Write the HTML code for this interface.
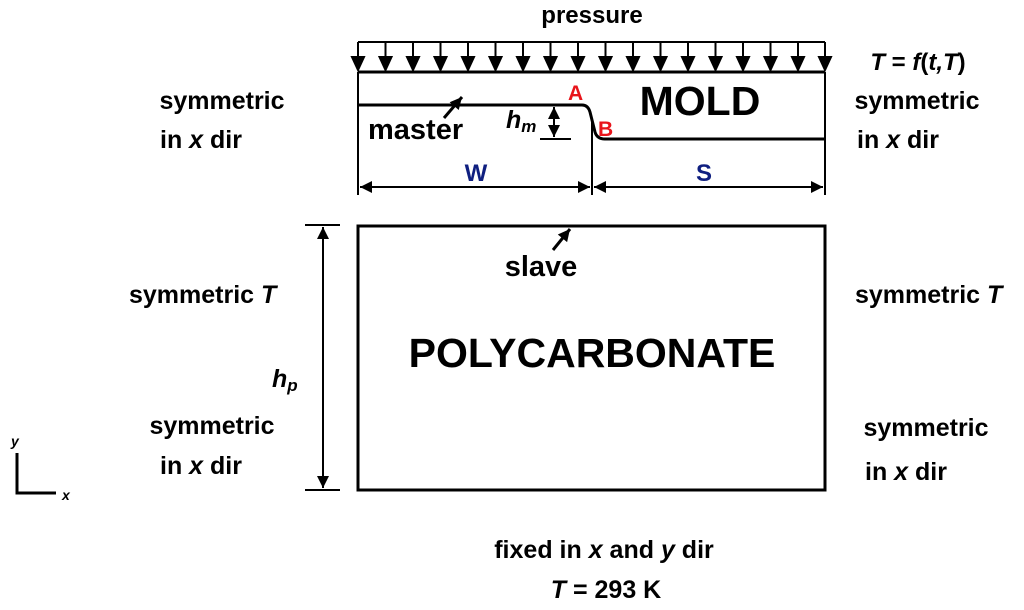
<!DOCTYPE html>
<html><head><meta charset="utf-8"><style>
html,body{margin:0;padding:0;background:#fff}
svg{display:block}
text{font-family:"Liberation Sans",Arial,sans-serif;font-weight:bold;fill:#000}
</style></head><body>
<svg width="1024" height="610" viewBox="0 0 1024 610" xmlns="http://www.w3.org/2000/svg">
<defs>
<marker id="ah2" viewBox="0 0 10 10" markerWidth="14" markerHeight="12" refX="10" refY="5" orient="auto-start-reverse" markerUnits="userSpaceOnUse">
<path d="M0,0 L10,5 L0,10 Z" fill="#000"/></marker>
</defs>
<text x="592" y="23" font-size="24" text-anchor="middle">pressure</text>
<line x1="358" y1="42" x2="825" y2="42" stroke="#000" stroke-width="2"/>
<g stroke="#000" stroke-width="2">
<line x1="358" y1="42" x2="358" y2="58"/><polygon points="352,57 364,57 358,70"/>
<line x1="385.5" y1="42" x2="385.5" y2="58"/><polygon points="379.5,57 391.5,57 385.5,70"/>
<line x1="413" y1="42" x2="413" y2="58"/><polygon points="407,57 419,57 413,70"/>
<line x1="440.5" y1="42" x2="440.5" y2="58"/><polygon points="434.5,57 446.5,57 440.5,70"/>
<line x1="468" y1="42" x2="468" y2="58"/><polygon points="462,57 474,57 468,70"/>
<line x1="495.5" y1="42" x2="495.5" y2="58"/><polygon points="489.5,57 501.5,57 495.5,70"/>
<line x1="523" y1="42" x2="523" y2="58"/><polygon points="517,57 529,57 523,70"/>
<line x1="550.5" y1="42" x2="550.5" y2="58"/><polygon points="544.5,57 556.5,57 550.5,70"/>
<line x1="578" y1="42" x2="578" y2="58"/><polygon points="572,57 584,57 578,70"/>
<line x1="605.5" y1="42" x2="605.5" y2="58"/><polygon points="599.5,57 611.5,57 605.5,70"/>
<line x1="633" y1="42" x2="633" y2="58"/><polygon points="627,57 639,57 633,70"/>
<line x1="660.5" y1="42" x2="660.5" y2="58"/><polygon points="654.5,57 666.5,57 660.5,70"/>
<line x1="688" y1="42" x2="688" y2="58"/><polygon points="682,57 694,57 688,70"/>
<line x1="715.5" y1="42" x2="715.5" y2="58"/><polygon points="709.5,57 721.5,57 715.5,70"/>
<line x1="743" y1="42" x2="743" y2="58"/><polygon points="737,57 749,57 743,70"/>
<line x1="770.5" y1="42" x2="770.5" y2="58"/><polygon points="764.5,57 776.5,57 770.5,70"/>
<line x1="798" y1="42" x2="798" y2="58"/><polygon points="792,57 804,57 798,70"/>
<line x1="825" y1="42" x2="825" y2="58"/><polygon points="819,57 831,57 825,70"/>
</g>
<g fill="none" stroke="#000">
<line x1="358" y1="72" x2="825" y2="72" stroke-width="3"/>
<line x1="358" y1="72" x2="358" y2="195" stroke-width="2"/>
<line x1="825" y1="72" x2="825" y2="195" stroke-width="2"/>
<path d="M358,105 L582,105 Q588,105 590,112 L595,132 Q597,139 605,139 L825,139" stroke-width="3"/>
<line x1="592" y1="118" x2="592" y2="195" stroke-width="2"/>
<line x1="360" y1="187" x2="590" y2="187" stroke-width="2" marker-end="url(#ah2)" marker-start="url(#ah2)"/>
<line x1="594" y1="187" x2="823" y2="187" stroke-width="2" marker-end="url(#ah2)" marker-start="url(#ah2)"/>
<line x1="554" y1="107" x2="554" y2="137" stroke-width="2" marker-end="url(#ah2)" marker-start="url(#ah2)"/>
<line x1="540" y1="139" x2="571" y2="139" stroke-width="2"/>
<rect x="358" y="226" width="467" height="264" stroke-width="3"/>
<line x1="305" y1="225" x2="340" y2="225" stroke-width="2"/>
<line x1="305" y1="490" x2="340" y2="490" stroke-width="2"/>
<line x1="323" y1="227" x2="323" y2="488" stroke-width="2" marker-end="url(#ah2)" marker-start="url(#ah2)"/>
<line x1="444" y1="118" x2="462" y2="97" stroke-width="3" marker-end="url(#ah2)"/>
<line x1="553" y1="250" x2="570" y2="229" stroke-width="3" marker-end="url(#ah2)"/>
<path d="M17,453 L17,493 L56,493" stroke-width="3"/>
</g>
<text x="11" y="446" font-size="14" font-style="italic">y</text>
<text x="62" y="500" font-size="14" font-style="italic">x</text>
<text x="700" y="115" font-size="41" text-anchor="middle">MOLD</text>
<text x="592" y="367" font-size="41" text-anchor="middle">POLYCARBONATE</text>
<text x="368" y="139" font-size="29">master</text>
<text x="541" y="276" font-size="29" text-anchor="middle">slave</text>
<text x="506" y="128" font-size="25" font-style="italic">h<tspan font-size="17" dy="4">m</tspan></text>
<text x="272" y="387" font-size="25" font-style="italic">h<tspan font-size="17" dy="4">p</tspan></text>
<text x="568" y="100" font-size="21" style="fill:#e8141b">A</text>
<text x="598" y="136" font-size="21" style="fill:#e8141b">B</text>
<text x="476" y="181" font-size="24" text-anchor="middle" style="fill:#0f1f80">W</text>
<text x="704" y="181" font-size="24" text-anchor="middle" style="fill:#0f1f80">S</text>
<text x="918" y="70" font-size="24" text-anchor="middle" font-style="italic">T <tspan font-style="normal">=</tspan> f<tspan font-style="normal">(</tspan>t,T<tspan font-style="normal">)</tspan></text>
<text x="222" y="109" font-size="25" text-anchor="middle">symmetric</text>
<text x="160" y="148" font-size="25">in <tspan font-style="italic">x</tspan> dir</text>
<text x="917" y="109" font-size="25" text-anchor="middle">symmetric</text>
<text x="857" y="148" font-size="25">in <tspan font-style="italic">x</tspan> dir</text>
<text x="129" y="303" font-size="25">symmetric  <tspan font-style="italic">T</tspan></text>
<text x="855" y="303" font-size="25">symmetric  <tspan font-style="italic">T</tspan></text>
<text x="212" y="434" font-size="25" text-anchor="middle">symmetric</text>
<text x="160" y="474" font-size="25">in <tspan font-style="italic">x</tspan> dir</text>
<text x="926" y="436" font-size="25" text-anchor="middle">symmetric</text>
<text x="865" y="480" font-size="25">in <tspan font-style="italic">x</tspan> dir</text>
<text x="604" y="558" font-size="25" text-anchor="middle">fixed in <tspan font-style="italic">x</tspan> and <tspan font-style="italic">y</tspan> dir</text>
<text x="606" y="598" font-size="25" text-anchor="middle"><tspan font-style="italic">T</tspan> = 293 K</text>
</svg>
</body></html>
